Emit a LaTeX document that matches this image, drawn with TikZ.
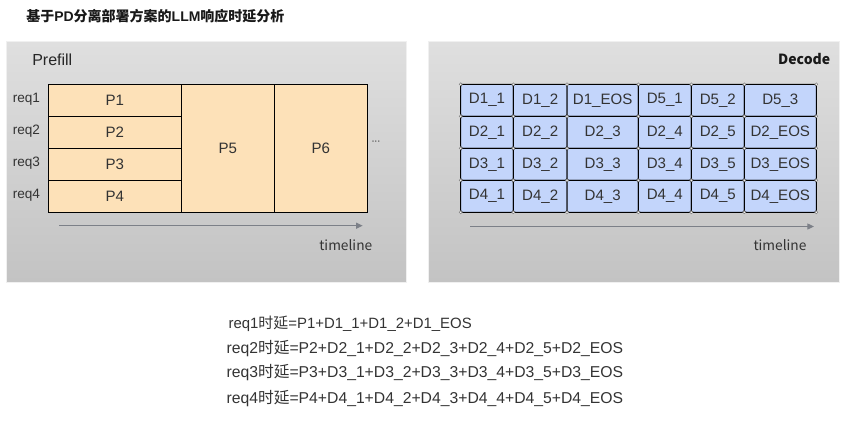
\documentclass[tikz,border=0pt]{standalone}
\usepackage{fontspec}
\setmainfont{Liberation Sans}
\newfontfamily\cjk{Noto Sans CJK SC}
\usetikzlibrary{arrows.meta}
\definecolor{peach}{HTML}{FDE1B8}
\definecolor{lblue}{HTML}{C3D5FB}
\definecolor{panelTop}{HTML}{DFDFDF}
\definecolor{panelBot}{HTML}{C3C3C3}
\definecolor{txt}{HTML}{333333}
\definecolor{arrowc}{HTML}{7C8088}
\newcommand\pbox[6]{\node[#6, minimum width={(#4-#2)*0.75pt}, minimum height={(#5-#3)*0.75pt}] (#1) at ({(#2+#4)/2},{(#3+#5)/2})}
\begin{document}
\begin{tikzpicture}[x=0.75pt,y=-0.75pt,
  panel/.style={draw=gray!12, line width=0.75pt, top color=panelTop, bottom color=panelBot, inner sep=0pt},
  pcell/.style={draw=black, fill=peach, line width=0.75pt, inner sep=0pt, outer sep=0pt, text=txt, font=\fontsize{11.3}{13}\selectfont},
  dcell/.style={draw=black, fill=lblue, line width=0.75pt, rounded corners=1.5pt, inner sep=0pt, outer sep=0pt, text=txt, font=\fontsize{11.3}{13}\selectfont},
  reqlab/.style={text=txt, font=\fontsize{10.2}{12}\selectfont, inner sep=0pt},
  tline/.style={text=txt, font=\cjk\fontsize{10.3}{12}\selectfont, inner sep=0pt},
  tarrow/.style={draw=arrowc, line width=0.9pt, -{Triangle[length=5pt,width=4.5pt]}},
  formula/.style={anchor=west, text=txt, inner sep=0pt},
  dot/.style={circle, draw=gray, fill=white, line width=0.4pt, inner sep=0pt, minimum size=2.2pt}]
\useasboundingbox (0,0) rectangle (841,431);
% title
\node[anchor=west, inner sep=0pt, text=black!90, font=\fontsize{10.5}{13}\selectfont\bfseries] (title) at (26,16.5) {{\cjk\bfseries 基于}PD{\cjk\bfseries 分离部署方案的}LLM{\cjk\bfseries 响应时延分析}};
% panels
\pbox{prefillpanel}{6}{42}{406.5}{282}{panel}{};
\pbox{decodepanel}{428.5}{42}{839.5}{282}{panel}{};
\node[anchor=west, inner sep=0pt, text=black!85, font=\fontsize{12}{14}\selectfont] (prefilllab) at (32,60) {Prefill};
\node[anchor=east, inner sep=0pt, text=black!90, font=\cjk\fontsize{10.5}{12}\selectfont\bfseries] (decodelab) at (830.5,59.5) {Decode};
% prefill cells
\pbox{P1}{48.3}{84.3}{181.3}{116.3}{pcell}{P1};
\pbox{P2}{48.3}{116.3}{181.3}{148.3}{pcell}{P2};
\pbox{P3}{48.3}{148.3}{181.3}{180.3}{pcell}{P3};
\pbox{P4}{48.3}{180.3}{181.3}{212.3}{pcell}{P4};
\pbox{P5}{181.3}{84.3}{274.3}{212.3}{pcell}{P5};
\pbox{P6}{274.3}{84.3}{367.3}{212.3}{pcell}{P6};
\node[reqlab, anchor=west] (r1) at (12.5,99.5) {req1};
\node[reqlab, anchor=west] (r2) at (12.5,131.5) {req2};
\node[reqlab, anchor=west] (r3) at (12.5,163.5) {req3};
\node[reqlab, anchor=west] (r4) at (12.5,195) {req4};
\node[inner sep=0pt, text=txt, font=\fontsize{8}{10}\selectfont] (more) at (376,143) {\textperiodcentered\kern-0.5pt\textperiodcentered\kern-0.5pt\textperiodcentered};
\coordinate (pa1) at (59.3,225.7);
\coordinate (pa2) at (362.7,225.7);
\draw[tarrow] (pa1) -- (pa2);
\node[tline, anchor=east] (ptime) at (372.5,245) {timeline};
% decode cells
\def\xs{{460.7,513.3,567,638.3,691.3,744.3,816.3}}
\def\ys{{84.3,116.3,148.3,180.3,212.3}}
\foreach \r/\row in {1/{D1\_1,D1\_2,D1\_EOS,D5\_1,D5\_2,D5\_3},
                     2/{D2\_1,D2\_2,D2\_3,D2\_4,D2\_5,D2\_EOS},
                     3/{D3\_1,D3\_2,D3\_3,D3\_4,D3\_5,D3\_EOS},
                     4/{D4\_1,D4\_2,D4\_3,D4\_4,D4\_5,D4\_EOS}}{
  \foreach \t [count=\c] in \row {
    \pgfmathsetmacro\xa{\xs[\c-1]}
    \pgfmathsetmacro\xb{\xs[\c]}
    \pgfmathsetmacro\ya{\ys[\r-1]}
    \pgfmathsetmacro\yb{\ys[\r]}
    \pbox{d\r\c}{\xa}{\ya}{\xb}{\yb}{dcell}{\t};
  }
}
\foreach \c in {0,...,6}{
  \foreach \r in {0,...,4}{
    \pgfmathsetmacro\xa{\xs[\c]}
    \pgfmathsetmacro\ya{\ys[\r]}
    \node[dot] (dot\c\r) at (\xa,\ya) {};
  }
}
\coordinate (da1) at (470,226.5);
\coordinate (da2) at (814,226.5);
\draw[tarrow] (da1) -- (da2);
\node[tline, anchor=east] (dtime) at (806.7,245) {timeline};
% formulas
\node[formula, font=\fontsize{11.2}{14}\selectfont] (f1) at (228.3,323.5) {req1{\cjk 时延}=P1+D1\_1+D1\_2+D1\_EOS};
\node[formula, font=\fontsize{11.8}{14}\selectfont] (f2) at (226.3,348.5) {req2{\cjk 时延}=P2+D2\_1+D2\_2+D2\_3+D2\_4+D2\_5+D2\_EOS};
\node[formula, font=\fontsize{11.8}{14}\selectfont] (f3) at (226.3,373) {req3{\cjk 时延}=P3+D3\_1+D3\_2+D3\_3+D3\_4+D3\_5+D3\_EOS};
\node[formula, font=\fontsize{11.8}{14}\selectfont] (f4) at (226.3,398.5) {req4{\cjk 时延}=P4+D4\_1+D4\_2+D4\_3+D4\_4+D4\_5+D4\_EOS};
\end{tikzpicture}
\end{document}
